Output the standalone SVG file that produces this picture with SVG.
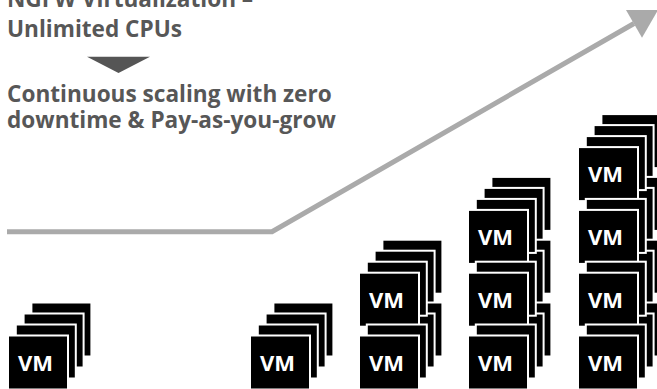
<svg xmlns="http://www.w3.org/2000/svg" width="657" height="389" viewBox="0 0 657 389">
<style>
.t{font-family:"Open Sans","Liberation Sans",sans-serif;font-weight:700;font-size:22.6px;fill:#575757}
.sq{fill:#000000;stroke:#ffffff;stroke-width:2}
.vm{font-family:"Open Sans","Liberation Sans",sans-serif;font-weight:700;font-size:22px;fill:#ffffff;text-anchor:middle}
.conn{fill:none;stroke:#aaaaaa;stroke-width:5;stroke-linejoin:miter}
</style>
<defs>
<g id="back"><rect class="sq" x="24.4" y="-32" width="60" height="54"/><rect class="sq" x="16.6" y="-21" width="60" height="54"/></g>
</defs>
<rect width="657" height="389" fill="#ffffff"/>
<g id="title">
<text class="t" x="7" y="7">NGFW Virtualization –</text>
<text class="t" x="7" y="37">Unlimited CPUs</text>
</g>
<g id="down-arrow"><polygon points="87,56.7 150,56.7 118.5,73" fill="#555555"/></g>
<g id="subtitle">
<text class="t" x="7" y="102">Continuous scaling with zero</text>
<text class="t" x="7" y="128">downtime &amp; Pay-as-you-grow</text>
</g>
<g id="connectors">
<path class="conn" d="M7,231.7 L272,231.7 L634,23.5"/>
<polygon points="626,10 658,10 642,37.7" fill="#aaaaaa"/>
</g>
<g id="stack-backs">
<use href="#back" transform="translate(7,334.5)"/>
<use href="#back" transform="translate(249,334.5)"/>
<use href="#back" transform="translate(358,271.7)"/>
<use href="#back" transform="translate(358,334.5)"/>
<use href="#back" transform="translate(467,208.9)"/>
<use href="#back" transform="translate(467,271.7)"/>
<use href="#back" transform="translate(467,334.5)"/>
<use href="#back" transform="translate(577,146.1)"/>
<use href="#back" transform="translate(577,208.9)"/>
<use href="#back" transform="translate(577,271.7)"/>
<use href="#back" transform="translate(577,334.5)"/>
</g>
<g id="stack-1-1" transform="translate(7,334.5)"><rect class="sq" x="8.8" y="-10" width="60" height="54"/><rect class="sq" x="1" y="1" width="60" height="54"/><text class="vm" x="28.5" y="36">VM</text></g>
<g id="stack-2-1" transform="translate(249,334.5)"><rect class="sq" x="8.8" y="-10" width="60" height="54"/><rect class="sq" x="1" y="1" width="60" height="54"/><text class="vm" x="28.5" y="36">VM</text></g>
<g id="stack-3-2" transform="translate(358,271.7)"><rect class="sq" x="8.8" y="-10" width="60" height="54"/><rect class="sq" x="1" y="1" width="60" height="54"/><text class="vm" x="28.5" y="36">VM</text></g>
<g id="stack-3-1" transform="translate(358,334.5)"><rect class="sq" x="8.8" y="-10" width="60" height="54"/><rect class="sq" x="1" y="1" width="60" height="54"/><text class="vm" x="28.5" y="36">VM</text></g>
<g id="stack-4-3" transform="translate(467,208.9)"><rect class="sq" x="8.8" y="-10" width="60" height="54"/><rect class="sq" x="1" y="1" width="60" height="54"/><text class="vm" x="28.5" y="36">VM</text></g>
<g id="stack-4-2" transform="translate(467,271.7)"><rect class="sq" x="8.8" y="-10" width="60" height="54"/><rect class="sq" x="1" y="1" width="60" height="54"/><text class="vm" x="28.5" y="36">VM</text></g>
<g id="stack-4-1" transform="translate(467,334.5)"><rect class="sq" x="8.8" y="-10" width="60" height="54"/><rect class="sq" x="1" y="1" width="60" height="54"/><text class="vm" x="28.5" y="36">VM</text></g>
<g id="stack-5-4" transform="translate(577,146.1)"><rect class="sq" x="8.8" y="-10" width="60" height="54"/><rect class="sq" x="1" y="1" width="60" height="54"/><text class="vm" x="28.5" y="36">VM</text></g>
<g id="stack-5-3" transform="translate(577,208.9)"><rect class="sq" x="8.8" y="-10" width="60" height="54"/><rect class="sq" x="1" y="1" width="60" height="54"/><text class="vm" x="28.5" y="36">VM</text></g>
<g id="stack-5-2" transform="translate(577,271.7)"><rect class="sq" x="8.8" y="-10" width="60" height="54"/><rect class="sq" x="1" y="1" width="60" height="54"/><text class="vm" x="28.5" y="36">VM</text></g>
<g id="stack-5-1" transform="translate(577,334.5)"><rect class="sq" x="8.8" y="-10" width="60" height="54"/><rect class="sq" x="1" y="1" width="60" height="54"/><text class="vm" x="28.5" y="36">VM</text></g>
</svg>
